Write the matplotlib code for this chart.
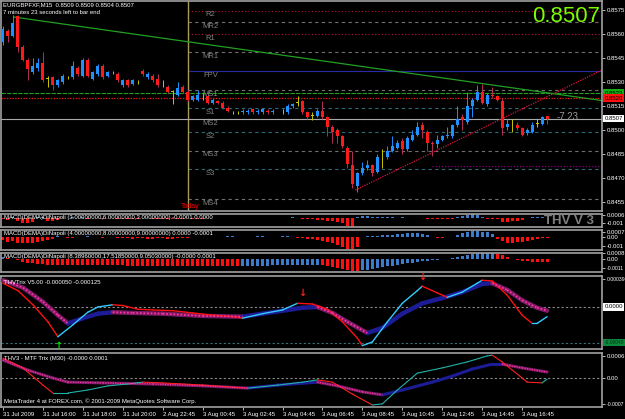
import numpy as np
import matplotlib as mpl
mpl.use('Agg')
import matplotlib.pyplot as plt

W, H = 625, 419
plt.rcParams['font.family'] = ['Liberation Sans', 'DejaVu Sans']
SMALL = 4.3

# ---- price bars (M15) ----
opens = [.8555, .8562, .8559, .8571, .8552, .8544, .8536, .8539, .8542, .8532,
         .8533, .8528, .8530, .8533, .8533, .8539, .8534, .8544, .8532, .8535,
         .8540, .8534, .8536, .8535, .8528, .8531, .8529, .8530, .8537, .8533,
         .8534, .8532, .8528, .8527, .8524, .8522, .8527, .8524, .8519, .8519,
         .8521, .8521, .8517, .8518, .8517, .8514, .8511, .8511, .8511, .8511,
         .8513, .8511, .8511, .8512, .8511, .8511, .8511, .8511, .8515, .8517,
         .8518, .8511, .8509, .8509, .8512, .8508, .8502, .8500, .8496, .8489,
         .8478, .8465, .8473, .8476, .8478, .8474, .8483, .8483, .8487, .8489,
         .8493, .8488, .8494, .8497, .8503, .8499, .8492, .8491, .8494, .8496,
         .8496, .8503, .8508, .8505, .8515, .8519, .8524, .8516, .8522, .8521,
         .8518, .8502, .8505, .8503, .8501, .8498, .8499, .8504, .8504, .8509]
closes = [.8563, .8559, .8567, .8552, .8544, .8538, .8540, .8542, .8531, .8532,
          .8528, .8531, .8534, .8533, .8540, .8535, .8544, .8534, .8536, .8540,
          .8533, .8536, .8536, .8531, .8531, .8528, .8531, .8530, .8535, .8535,
          .8531, .8528, .8528, .8524, .8524, .8526, .8524, .8519, .8521, .8522,
          .8521, .8517, .8519, .8517, .8514, .8512, .8511, .8511, .8512, .8512,
          .8511, .8512, .8513, .8511, .8512, .8511, .8511, .8515, .8516, .8517,
          .8511, .8508, .8509, .8512, .8508, .8502, .8499, .8496, .8490, .8479,
          .8466, .8473, .8476, .8478, .8473, .8483, .8483, .8487, .8490, .8492,
          .8488, .8495, .8497, .8502, .8500, .8492, .8491, .8494, .8496, .8497,
          .8503, .8507, .8506, .8515, .8519, .8524, .8517, .8522, .8521, .8519,
          .8501, .8504, .8505, .8501, .8497, .8500, .8503, .8504, .8508, .8507]
highs = [.8565, .8563, .8572, .8572, .8553, .8545, .8545, .8545, .8549, .8534,
         .8534, .8532, .8535, .8534, .8543, .8540, .8545, .8545, .8537, .8541,
         .8541, .8537, .8537, .8536, .8532, .8532, .8532, .8531, .8538, .8536,
         .8535, .8535, .8531, .8528, .8525, .8530, .8528, .8525, .8522, .8525,
         .8523, .8522, .8520, .8519, .8518, .8515, .8512, .8512, .8513, .8513,
         .8514, .8513, .8514, .8513, .8513, .8511, .8513, .8516, .8517, .8521,
         .8519, .8512, .8511, .8513, .8518, .8509, .8503, .8501, .8497, .8490,
         .8487, .8474, .8480, .8481, .8479, .8485, .8488, .8490, .8496, .8494,
         .8495, .8496, .8500, .8505, .8505, .8500, .8493, .8497, .8497, .8502,
         .8504, .8515, .8510, .8524, .8520, .8528, .8529, .8523, .8527, .8522,
         .8520, .8507, .8507, .8505, .8502, .8501, .8505, .8507, .8509, .8509]
lows = [.8553, .8555, .8558, .8549, .8543, .8531, .8535, .8537, .8530, .8527,
        .8525, .8527, .8529, .8532, .8532, .8534, .8533, .8533, .8531, .8534,
        .8532, .8533, .8535, .8530, .8527, .8527, .8528, .8529, .8534, .8532,
        .8530, .8527, .8527, .8523, .8516, .8521, .8523, .8518, .8518, .8518,
        .8519, .8516, .8516, .8516, .8513, .8511, .8510, .8510, .8510, .8510,
        .8510, .8510, .8510, .8510, .8510, .8511, .8510, .8510, .8514, .8515,
        .8510, .8507, .8506, .8508, .8507, .8496, .8492, .8492, .8489, .8476,
        .8464, .8461, .8472, .8475, .8471, .8473, .8476, .8482, .8486, .8488,
        .8485, .8487, .8493, .8496, .8495, .8487, .8484, .8489, .8493, .8495,
        .8495, .8502, .8500, .8504, .8508, .8518, .8516, .8515, .8520, .8518,
        .8497, .8500, .8499, .8500, .8496, .8497, .8498, .8502, .8503, .8504]

# pivot levels
pivot_names = ['R2', 'MR2', 'R1', 'MR1', 'FPV', 'MS1', 'S1', 'MS2', 'S2', 'MS3', 'S3', 'MS4']
pivot_prices = [0.85746, 0.85675, 0.85600, 0.85488, 0.85369, 0.85250,
                0.85138, 0.85069, 0.84986, 0.84871, 0.84754, 0.84567]
today_bar = 37
green_level, red_level, bid = 0.85231, 0.85200, 0.8507
purple_level = 0.84775
green_trend = ([2.2, 120], [0.85706, 0.85184])
red_trend = ([70.6, 120], [0.84625, 0.85375])
main_ticks = [0.8455, 0.8470, 0.8485, 0.8500, 0.8515, 0.8530, 0.8545, 0.8560, 0.8575]

# MACD DiNapoli histograms
macd1 = [-2, -3, 2, -6, -10, -11, -7, 3, 2, -5, -6, -4,
         1, 1, 2, 1, 2, -1, 1, 1, -1, 1, 0, -1, -1, -1, -1, -1, 1, 1, -1, -1, -2, -1, -1, -2, -2, 1, -1, -2, -1,
         1, 1, 1, 1, 1, 1, 1, 1, 1, 1, 1, 1, 1, 1, 1,
         1, 1, 2, 1,
         -1, -2, -2, -3, -4, -5, -6, -8, -10, -16, -18,
         3, 4, 4, 3, 3,
         2, 2, 2, 1, 2, 1, 1, 1, 1,
         -1, -2, -2, -1, -1, -1,
         3, 5, 8, 9, 8,
         3, -1, -1, -1,
         -8, -7, -6, -5, -4,
         1, 2, 2, 2, 1]  # x1e-4
macd2 = [-3, -5, -4, -6, -7, -7, -6, -5, -4, -3, -2, 2, 1,
         -1, -1, 1, 1, 2, 1, 1, -1, 1, 1, -1, -1, -1, -2, -1, -1, -2, -2, -1, -1, -2, -2, -1, -1, -1, 1, 1, 1,
         1, 1, 1, 1, 2, 2, 1, 1, 1, 1, 2, 2, 1, 1, 1, 2, 2, 1,
         -1, -1, -2, -2, -3,
         -4, -5, -7, -9, -11, -13, -13, -11,
         1, 2, 2, 2, 3, 3, 3, 4, 4, 5, 5, 5, 4, 3,
         1, -1, -1, 1, 1,
         3, 5, 7, 8, 8, 7, 6, 4,
         -2, -4, -6, -6, -5, -5, -4, -3, -2,
         -1, -1]  # x1e-4
macd3 = [30, 20, 10, -10, -30,
         -40, -48, -55, -60, -64, -66, -67, -68, -68, -69, -70, -70, -71, -71, -72,
         -72, -73, -73, -74, -74, -75, -75, -75, -76, -76, -76, -77, -77, -77, -78,
         -78, -78, -78, -79, -79, -79, -79, -80, -80, -80, -80, -81, -81,
         -80, -79, -78, -77, -76, -75, -74, -73, -72, -71, -70, -69, -68, -67, -66, -65,
         -70, -80, -90, -100, -115, -130, -140, -145,
         -135, -125, -115, -105, -95, -85, -75, -65, -55,
         -45, -38, -30, -22, -15, -8, -2, 4, 10,
         20, 32, 45, 58, 68, 75, 80, 82, 83,
         70, 50, 30, 10, -5, -15, -22, -26, -28, -29, -30]  # x1e-5

# THV Trix (x1e-5)
trix_fast_i = [0, 3, 6, 9, 11, 14, 17, 19, 22, 24, 27, 30, 34, 38, 42, 46, 48, 52, 56, 59,
               62, 65, 68, 71, 72, 74, 77, 80, 83, 84, 87, 89, 92, 95, 96, 98, 101, 104, 106, 107, 109]
trix_fast_v = [32, 22, 3, -20, -40, -24, -7, 0, 3, 2, -3, -4, -5, -8, -11, -13, -15, -9, -4, 5,
               4, -3, -20, -42, -52, -47, -20, 5, 22, 28, 19, 13, 20, 32, 36, 35, 16, -11, -22, -22, -13]
trix_slow_i = [0, 4, 8, 11, 13, 16, 19, 22, 26, 32, 40, 48, 52, 56, 60, 63, 66, 69, 73, 76,
               80, 84, 88, 92, 96, 98, 101, 104, 107, 109]
trix_slow_v = [36, 26, 7, -11, -22, -15, -9, -7, -8, -9, -12, -13, -9, -5, -1, 0, -8, -20, -35, -28,
               -9, 5, 12, 20, 31, 32, 23, 9, -1, -5]
arrow_dn_i, arrow_dn_v = [60, 84], [19, 40]
arrow_up_i, arrow_up_v = [11], [-52]

# MTF Trix (x1e-5)
mtf_fast_i = [0, 4, 8, 10, 13, 17, 21, 25, 28, 32, 40, 49, 55, 60, 63, 66, 70, 74, 76, 79,
              83, 88, 93, 97, 98, 100, 104, 105, 108, 109]
mtf_fast_v = [53, 27, -19, -40, -40, -32, -21, -16, -11, -13, -19, -27, -19, -11, -5, -11, -43, -72, -69, -32,
              13, 27, 43, 59, 61, 43, 0, -11, -13, -3]
mtf_slow_i = [0, 5, 10, 13, 20, 30, 40, 49, 55, 63, 67, 72, 76, 80, 86, 90, 94, 98, 100, 104, 109]
mtf_slow_v = [48, 21, 0, -11, -13, -16, -21, -27, -19, -11, -21, -37, -45, -32, -11, 5, 24, 37, 37, 27, 16]

x_tick_idx = [0, 8, 16, 24, 32, 40, 48, 56, 64, 72, 80, 88, 96, 104]
x_labels = ['31 Jul 2009', '31 Jul 16:00', '31 Jul 18:00', '31 Jul 20:00', '2 Aug 22:45',
            '3 Aug 00:45', '3 Aug 02:45', '3 Aug 04:45', '3 Aug 06:45', '3 Aug 08:45',
            '3 Aug 10:45', '3 Aug 12:45', '3 Aug 14:45', '3 Aug 16:45']

fig = plt.figure(figsize=(W / 100, H / 100), dpi=100, facecolor='black')


def panel(top, bottom, ylim):
    ax = fig.add_axes([1 / W, 1 - bottom / H, 601 / W, (bottom - top) / H], facecolor='black')
    for s in ax.spines.values():
        s.set_color('#a0a0a0')
        s.set_linewidth(1.2)
    ax.set_xlim(-0.4, 120)
    ax.set_ylim(*ylim)
    ax.set_xticks([])
    ax.yaxis.tick_right()
    ax.tick_params(axis='y', colors='white', labelsize=SMALL, length=2, width=0.5, pad=1.5)
    return ax


def tag(ax, y, txt, fc, tc='black', size=SMALL):
    ax.text(1.004, y, txt, transform=ax.get_yaxis_transform(), fontsize=size, color=tc,
            va='center', ha='left', clip_on=False,
            bbox=dict(boxstyle='square,pad=0.2', fc=fc, ec='none'))


def two_tone(ax, xs, ys, up, dn, lw, dots=None):
    for k in range(len(xs) - 1):
        rising = ys[k + 1] >= ys[k]
        ax.plot(xs[k:k + 2], ys[k:k + 2], color=up if rising else dn, lw=lw,
                solid_capstyle='round', zorder=3)
        if dots and not rising:
            ax.plot(xs[k:k + 2], ys[k:k + 2], color=dots, lw=lw * 0.4,
                    ls=(0, (1, 1)), zorder=4)


def ftext(x, y, s, **kw):
    fig.text(x / W, 1 - y / H, s, va='center', **kw)


def fit_labels(a):
    # long right-axis labels are squeezed so they stay inside the image
    for t in a.get_yticklabels():
        if len(t.get_text()) > 6:
            t.set_fontsize(3.7)


# ---- main price panel ----
ax = panel(1, 211, (0.8449375, 0.8580625))
idx = np.arange(len(opens))
o, c = np.array(opens), np.array(closes)
col = np.where(c > o, '#1e90ff', np.where(c < o, '#ff1a1a', '#c8c800'))
wick = np.where(c > o, '#1e90ff', np.where(c < o, '#b03058', '#c8c800'))
ax.vlines(idx, lows, highs, colors=wick, lw=0.7, zorder=3)
body = np.maximum(np.abs(c - o), 0.00003)
ax.bar(idx, body, bottom=np.minimum(o, c), width=0.6, color=col, lw=0, zorder=4)

ax.axvline(today_bar, color='#a89a58', lw=1.0, zorder=2)
for name, p in zip(pivot_names, pivot_prices):
    if name == 'FPV':
        sty = dict(color='#2a2aa8', lw=0.8, ls='-')
    elif name.startswith('R'):
        sty = dict(color='#c0103a', lw=0.8, ls=(0, (1, 2)))
    elif name.startswith('S'):
        sty = dict(color='#2f6a78', lw=0.8, ls=(0, (3, 3)))
    else:
        sty = dict(color='#707070', lw=0.8, ls=(0, (3, 3)))
    ax.plot([today_bar, 120], [p, p], zorder=1, **sty)
    ax.text(41.6, p - 0.00004, name, color='#858585', fontsize=5.5, ha='center', va='top', zorder=5)
ax.axhline(green_level, color='#20a020', lw=0.8, ls=(0, (4, 1)), zorder=2)
ax.axhline(red_level, color='#ff1010', lw=0.9, ls=(0, (1, 1.2)), zorder=2)
ax.axhline(bid, color='#a8a8a8', lw=0.8, zorder=2)
ax.plot([86, 120], [purple_level, purple_level], color='#8b008b', lw=0.9, ls=(0, (1, 1.5)))
ax.plot(*green_trend, color='#22a022', lw=0.9, zorder=2)
ax.plot(*red_trend, color='#dc143c', lw=0.9, ls=(0, (1, 1)), zorder=2)
ax.set_yticks(main_ticks)
ax.set_yticklabels(['%.4f' % t for t in main_ticks])
tag(ax, green_level, '0.8523', '#10b010')
tag(ax, red_level, '0.8520', '#ff1010')
tag(ax, bid, '0.8507', 'white')
ax.text(37.6, 0.84519, 'Today', color='red', fontsize=5, ha='center', va='center')

ftext(3, 5, 'EURGBPFXF,M15  0.8509 0.8509 0.8504 0.8507', color='white', fontsize=SMALL)
ftext(3, 13, '7 minutes 23 seconds left to bar end', color='white', fontsize=SMALL)
ftext(600, 17, '0.8507', color='#7cfc00', fontsize=16, ha='right')
ftext(557, 117, '-7.23', color='#9a9a9a', fontsize=7)

# ---- MACD panels ----
def macd_panel(top, bottom, ylim, vals, scale, title, ticks, labels, by_slope=False):
    a = panel(top, bottom, ylim)
    v = np.array(vals) * scale
    if by_slope:
        prev = np.concatenate([[v[0] - 1], v[:-1]])
        colors = np.where(v > prev, '#3c7cc8', '#ff1010')
    else:
        colors = np.where(v > 0, '#3c7cc8', '#ff1010')
    a.bar(np.arange(len(v)), v, width=0.6, color=colors, lw=0)
    a.set_yticks(ticks)
    a.set_yticklabels(labels)
    fit_labels(a)
    ftext(4, top + 3.5, title, color='white', fontsize=SMALL)
    return a


m1 = macd_panel(214, 227, (-0.00185, 0.000915), macd1, 1e-4,
                'MACD(DEMA)DiNapoli (3.00000000,6.00000000,3.00000000) -0.0001 0.0000',
                [0.0006, -0.001], ['0.0006', '-0.001'])
ftext(544, 221, 'THV V 3', color='#7f7f7f', fontsize=9.5, fontweight='bold')
macd_panel(230, 250, (-0.00147, 0.00088), macd2, 1e-4,
           'MACD(DEMA)DiNapoli (4.00000000,8.00000000,9.00000000) 0.0000 -0.0001',
           [0.0007, 0.0, -0.001], ['0.0007', '0.00', '-0.001'])
macd_panel(253, 272, (-0.00156, 0.00081), macd3, 1e-5,
           'MACD(DEMA)DiNapoli (8.38960000,17.51850000,9.05030000) -0.0000 0.0001',
           [0.0008, 0.0, -0.0011], ['0.0008', '0.00', '-0.0011'], by_slope=True)

# ---- THV Trix ----
at = panel(276, 349, (-56.5e-5, 41.7e-5))
at.axhline(0, color='#8a8a8a', lw=0.8, ls=(0, (2, 2)))
at.axhline(-48e-5, color='#3a7070', lw=0.8, ls=(0, (2, 2)))
two_tone(at, trix_slow_i, np.array(trix_slow_v) * 1e-5, '#1c1c96', '#7a1a66', 3.2, dots='#ff3399')
two_tone(at, trix_fast_i, np.array(trix_fast_v) * 1e-5, '#33ccff', '#ff1010', 1.0)
for i, v in zip(arrow_dn_i, arrow_dn_v):
    at.text(i, v * 1e-5, '\u2193', color='#ff2020', fontsize=7, ha='center', va='center',
            family='DejaVu Sans', fontweight='bold')
for i, v in zip(arrow_up_i, arrow_up_v):
    at.text(i, v * 1e-5, '\u2191', color='#00e000', fontsize=7, ha='center', va='center',
            family='DejaVu Sans', fontweight='bold')
at.set_yticks([38e-5])
at.set_yticklabels(['0.00039'])
fit_labels(at)
tag(at, 0, '0.0000', 'white')
tag(at, -48e-5, '-0.00048', '#0a8a3a', '#003018', size=3.5)
ftext(4, 282, 'THVTrix V5.00 -0.000050 -0.000125', color='white', fontsize=SMALL)

# ---- MTF Trix ----
am = panel(353, 407, (-77.4e-5, 66.8e-5))
am.axhline(0, color='#8a8a8a', lw=0.8, ls=(0, (2, 2)))
two_tone(am, mtf_slow_i, np.array(mtf_slow_v) * 1e-5, '#1c1c96', '#7a1a66', 2.2, dots='#ff3399')
two_tone(am, mtf_fast_i, np.array(mtf_fast_v) * 1e-5, '#20b2aa', '#ff2020', 0.8)
am.set_yticks([60e-5, 0, -70e-5])
am.set_yticklabels(['0.0006', '0.00', '-0.0007'])
fit_labels(am)
am.set_xticks(x_tick_idx)
am.set_xticklabels(x_labels, ha='left')
am.tick_params(axis='x', colors='white', labelsize=SMALL, length=2, width=0.5, pad=1.5)
ftext(4, 358, 'THV3 - MTF Trix (M30) -0.0000 0.0001', color='white', fontsize=SMALL)
ftext(4, 401, 'MetaTrader 4 at FOREX.com, \u00a9 2001-2009 MetaQuotes Software Corp.',
      color='white', fontsize=SMALL)

fig.savefig('out.png', dpi=100, facecolor='black')
